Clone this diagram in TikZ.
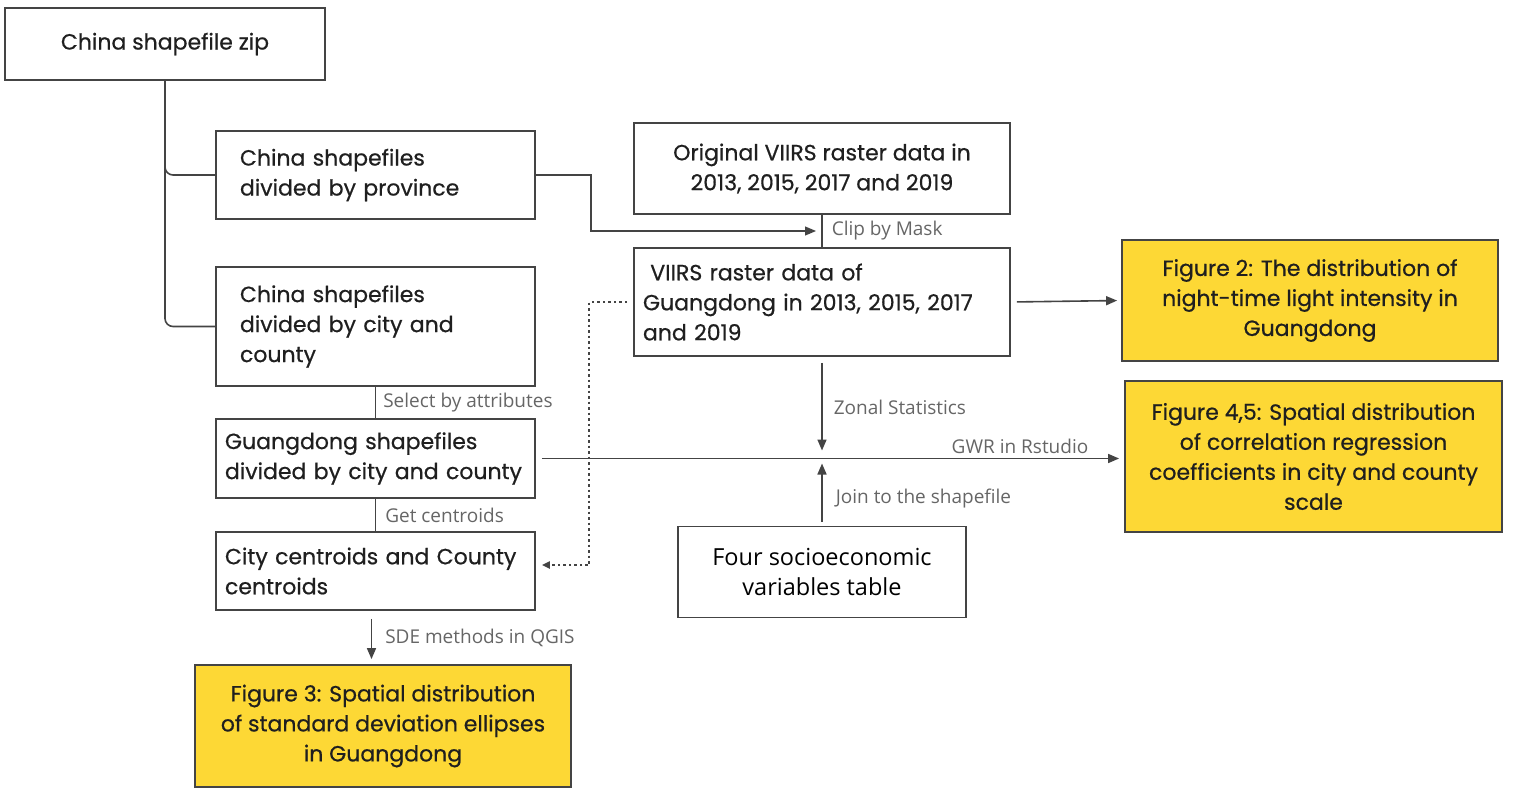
\documentclass[tikz,border=0pt]{standalone}
\usepackage{fontspec}
\usepackage{xcolor}
\usepackage{tikz}
\usetikzlibrary{
	arrows.meta,positioning,calc
}
\newfontfamily\boxfont[FakeBold=0.6]{Poppins}
\newfontfamily\lblfont{Open Sans}
\definecolor{linegray}{HTML}{444444}
\definecolor{labelgray}{HTML}{666666}
\definecolor{figyellow}{HTML}{FDD835}
\tikzset{
	box/.style={draw=linegray,line width=1.8pt,inner ysep=0pt,
		font=\boxfont\fontsize{22}{30}\selectfont,text=black!88},
	lbox/.style={box,align=left},
	figbox/.style={box,fill=figyellow,align=center},
	lbl/.style={font=\lblfont\fontsize{19}{22}\selectfont,text=labelgray,inner sep=0pt},
	flow/.style={draw=linegray,line width=1.6pt},
	arr/.style={flow,-{Triangle[length=11pt,width=9pt]}},
	darr/.style={flow,line width=2pt,dash pattern=on 2.5pt off 3pt,-{Triangle[length=8pt,width=7pt]}}
}
\begin{document}
\begin{tikzpicture}[x=1pt,y=-1pt]
	\useasboundingbox (0,0) rectangle (1516,800);
	%
	%  BOXES
	%
	\node[box,minimum width=320pt,minimum height=72pt] (A) at (165,44) {China shapefile zip};
	\node[lbox,minimum width=319pt,minimum height=88pt,inner xsep=24pt,text width=271pt] (B) at (375.5,175)
		{China shapefiles\\divided by province};
	\node[lbox,minimum width=319pt,minimum height=119pt,inner xsep=24pt,text width=271pt] (C) at (375.5,326.5)
		{China shapefiles\\divided by city and\\county};
	\node[lbox,minimum width=319pt,minimum height=79pt,inner xsep=9pt,text width=301pt] (D) at (375.5,458.5)
		{Guangdong shapefiles\\divided by city and county};
	\node[lbox,minimum width=319pt,minimum height=78pt,inner xsep=9pt,text width=301pt] (E) at (375.5,571)
		{City centroids and County\\centroids};
	\node[figbox,minimum width=376pt,minimum height=122pt] (F) at (383,726)
		{Figure 3: Spatial distribution\\of standard deviation ellipses\\in Guangdong};
	\node[box,align=center,minimum width=376pt,minimum height=91pt] (G) at (822,168.5)
		{Original VIIRS raster data in\\2013, 2015, 2017 and 2019};
	\node[lbox,minimum width=376pt,minimum height=108pt,inner xsep=9pt,text width=358pt] (H) at (822,302)
		{\ VIIRS raster data of\\Guangdong in 2013, 2015, 2017\\and 2019};
	\node[figbox,minimum width=376pt,minimum height=121pt] (I) at (1310,300.5)
		{Figure 2: The distribution of\\night-time light intensity in\\Guangdong};
	\node[figbox,minimum width=377pt,minimum height=151pt] (J) at (1313.5,456.5)
		{Figure 4,5: Spatial distribution\\of correlation regression\\coefficients in city and county\\scale};
	\node[box,align=center,minimum width=288pt,minimum height=91pt,
		font=\lblfont\fontsize{23.5}{30}\selectfont,text=black] (K) at (822,572)
		{Four socioeconomic\\variables table};
	%
	%  JOINS
	%
	\coordinate (M1) at ($(G.south)!0.5!(H.north)$);
	\coordinate (X) at (H.south |- D.east);
	%
	\draw[flow,rounded corners=8pt] (A.south) |- (B.west);
	\draw[flow,rounded corners=8pt] (A.south) |- (C.west);
	\draw[arr,line width=1.2pt,shorten >=6pt] (B.east) -- ++(55,0) |- (M1);
	\draw[flow] (G.south) -- node[lbl,right=9pt]{Clip by Mask} (H.north);
	\draw[flow] (C.south) -- node[lbl,right=7pt]{Select by attributes} (D.north);
	\draw[flow] (D.south) -- node[lbl,right=9pt]{Get centroids} (E.north);
	\draw[arr,shorten <=8pt,shorten >=5pt] ([xshift=-4pt]E.south) -- ([xshift=-4pt]E.south |- F.north)
		node[midway,lbl,right=13pt]{SDE methods in QGIS};
	\draw[darr,shorten <=6pt,shorten >=6pt] (H.west) -- ++(-44,0) |- ([yshift=6pt]E.east);
	\draw[arr,shorten <=6pt,shorten >=4pt] (H.east) -- (I.west);
	\draw[arr,shorten <=6pt,shorten >=8pt] (H.south) -- node[lbl,right=11pt]{Zonal Statistics} (X);
	\draw[arr,shorten <=4pt,shorten >=5pt] (K.north) -- node[lbl,right=13pt,pos=0.4]{Join to the shapefile} (X);
	\draw[arr,shorten <=6pt,shorten >=5pt] (D.east) -- (D.east -| J.west)
		node[lbl,anchor=south east,xshift=-35pt,yshift=4pt]{GWR in Rstudio};
\end{tikzpicture}
\end{document}
